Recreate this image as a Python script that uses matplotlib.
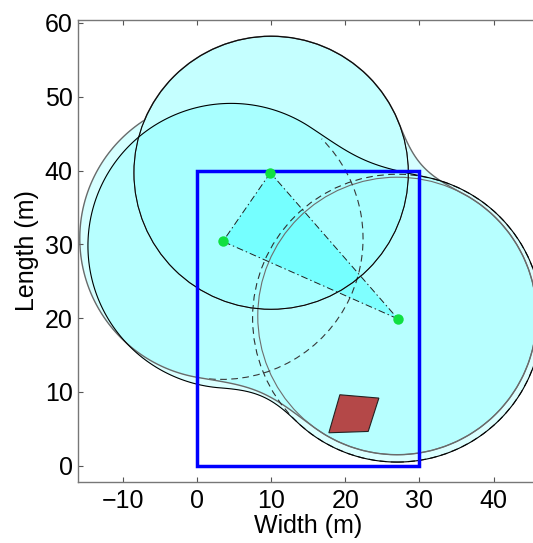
import numpy as np
import matplotlib
matplotlib.use("Agg")
import matplotlib.pyplot as plt
from matplotlib.patches import Circle, Polygon, Rectangle, Arc

plt.rcParams['font.family'] = ['Liberation Sans', 'DejaVu Sans']

# ---- data ----
ap_x = [9.9, 3.5, 27.1]          # green AP positions
ap_y = [39.7, 30.4, 19.9]
gray_cx = [10.0, 3.3, 27.0]      # outer (gray) coverage circles
gray_cy = [39.7, 30.8, 20.3]
gray_r = [18.5, 19.1, 18.8]
black_cx = [10.0, 4.6, 27.0]     # black coverage circles
black_cy = [39.7, 29.8, 20.0]
black_r = [18.5, 19.3, 19.5]
room_w, room_h = 30, 40
obj_x = [19.27, 24.53, 23.09, 17.79]
obj_y = [9.62, 9.17, 4.65, 4.47]
xticks = [-10, 0, 10, 20, 30, 40]
yticks = [0, 10, 20, 30, 40, 50, 60]
xlim = (-16, 46)
ylim = (-2.2, 60.4)

CYAN = (0.0, 1.0, 1.0)

fig = plt.figure(figsize=(5.33, 5.43), dpi=100)
ax = fig.add_axes([78.3/533, 61/543, 459.8/533, 462/543])
ax.set_xlim(*xlim)
ax.set_ylim(*ylim)

# fields for smooth unions
gx = np.linspace(xlim[0] - 2, xlim[1] + 2, 1500)
gy = np.linspace(ylim[0] - 2, ylim[1] + 2, 1500)
X, Y = np.meshgrid(gx, gy)


def sdist(cx, cy, r):
    return np.hypot(X - cx, Y - cy) - r


def smin(a, b, k):
    h = np.maximum(k - np.abs(a - b), 0) / k
    return np.minimum(a, b) - h * h * k / 4.0


s1 = sdist(gray_cx[0], gray_cy[0], gray_r[0])
s2 = sdist(gray_cx[1], gray_cy[1], gray_r[1])
s3 = sdist(gray_cx[2], gray_cy[2], gray_r[2])
FG = np.minimum(np.minimum(s1, s2), np.minimum(smin(s1, s3, 7.5), smin(s2, s3, 9.5)))

t2 = sdist(black_cx[1], black_cy[1], black_r[1])
t3 = sdist(black_cx[2], black_cy[2], black_r[2])
dx, dy = black_cx[2] - black_cx[1], black_cy[2] - black_cy[1]
side = dx * (Y - black_cy[1]) - dy * (X - black_cx[1])
kB = np.where(side > 0, 9.0, 6.2)
FB = smin(t2, t3, kB)

# fills
ax.contourf(X, Y, FG, levels=[-1e6, 0], colors=[CYAN], alpha=0.16, zorder=1)
ax.contourf(X, Y, FB, levels=[-1e6, 0], colors=[CYAN], alpha=0.14, zorder=2)
ax.add_patch(Circle((black_cx[0], black_cy[0]), black_r[0], facecolor=CYAN,
                    alpha=0.08, edgecolor='none', zorder=3))
ax.add_patch(Polygon(list(zip(ap_x, ap_y)), closed=True, facecolor=CYAN,
                     alpha=0.3, edgecolor='none', zorder=4))

# outlines
ax.add_patch(Circle((gray_cx[0], gray_cy[0]), gray_r[0], fill=False,
                    edgecolor='#6e6e6e', lw=0.8, zorder=5))
ax.add_patch(Circle((gray_cx[2], gray_cy[2]), gray_r[2], fill=False,
                    edgecolor='#6e6e6e', lw=0.8, zorder=5))
ax.add_patch(Arc((gray_cx[1], gray_cy[1]), 2 * gray_r[1], 2 * gray_r[1],
                 theta1=-95, theta2=45, edgecolor='#383838', lw=0.8,
                 linestyle=(0, (6, 4)), zorder=5))
ax.contour(X, Y, FG, levels=[0], colors=['#6a6a6a'], linewidths=1.0, zorder=6)
ax.add_patch(Circle((black_cx[0], black_cy[0]), black_r[0], fill=False,
                    edgecolor='black', lw=0.7, zorder=7))
ax.add_patch(Circle((black_cx[2], black_cy[2]), black_r[2], fill=False,
                    edgecolor='#303030', lw=0.8, linestyle=(0, (6, 4)), zorder=7))
ax.contour(X, Y, FB, levels=[0], colors=['black'], linewidths=0.8, zorder=8)

# triangle dash-dot
tx = ap_x + [ap_x[0]]
ty = ap_y + [ap_y[0]]
ax.plot(tx, ty, color='#202020', lw=0.7, linestyle=(0, (7, 3, 1.5, 3)), zorder=9)

# room and object
ax.add_patch(Rectangle((0, 0), room_w, room_h, fill=False, edgecolor='#0000ff',
                       lw=2.5, zorder=10))
ax.add_patch(Polygon(list(zip(obj_x, obj_y)), closed=True, facecolor='#b44848',
                     edgecolor='#222222', lw=0.8, zorder=10))

ax.plot(ap_x, ap_y, 'o', color='#10e040', markersize=7.5, markeredgewidth=0, zorder=11)

# axes styling
ax.set_xticks(xticks)
ax.set_yticks(yticks)
ax.tick_params(direction='in', length=3.5, width=0.8, color='#555555',
               labelsize=18, top=True, right=True)
ax.tick_params(axis='x', pad=5)
ax.tick_params(axis='y', pad=4)
for sp in ax.spines.values():
    sp.set_color('#777777')
    sp.set_linewidth(1.0)
ax.set_xlabel('Width (m)', fontsize=18, labelpad=1)
ax.set_ylabel('Length (m)', fontsize=18, labelpad=4)

fig.savefig('out.png', dpi=100)
